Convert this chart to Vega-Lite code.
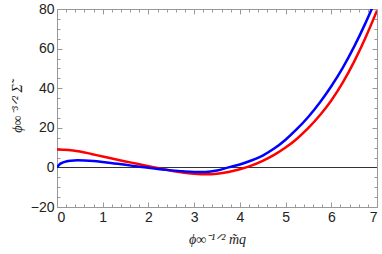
{
  "$schema": "https://vega.github.io/schema/vega-lite/v6.json",
  "width": 320,
  "height": 198,
  "autosize": {"type": "none"},
  "padding": {"left": 57, "top": 9, "right": 5, "bottom": 47},
  "background": "white",
  "config": {
    "view": {"stroke": "#999", "strokeWidth": 1},
    "axis": {
      "grid": false,
      "domain": false,
      "tickColor": "#999",
      "labelFont": "Liberation Sans",
      "labelFontSize": 14,
      "labelColor": "#222",
      "titleFont": "Liberation Serif",
      "titleFontStyle": "italic",
      "titleFontWeight": "normal",
      "titleFontSize": 14,
      "titleColor": "#222"
    }
  },
  "data": {
    "values": [
      {"x": 0, "y": 9.0, "s": "red"},
      {"x": 0.25, "y": 8.8, "s": "red"},
      {"x": 0.5, "y": 8.0, "s": "red"},
      {"x": 0.75, "y": 6.8, "s": "red"},
      {"x": 1.0, "y": 5.5, "s": "red"},
      {"x": 1.25, "y": 4.2, "s": "red"},
      {"x": 1.5, "y": 3.0, "s": "red"},
      {"x": 1.75, "y": 1.8, "s": "red"},
      {"x": 2.0, "y": 0.6, "s": "red"},
      {"x": 2.25, "y": -0.6, "s": "red"},
      {"x": 2.5, "y": -1.7, "s": "red"},
      {"x": 2.75, "y": -2.6, "s": "red"},
      {"x": 3.0, "y": -3.2, "s": "red"},
      {"x": 3.25, "y": -3.5, "s": "red"},
      {"x": 3.5, "y": -3.2, "s": "red"},
      {"x": 3.75, "y": -2.3, "s": "red"},
      {"x": 4.0, "y": -0.9, "s": "red"},
      {"x": 4.25, "y": 0.9, "s": "red"},
      {"x": 4.5, "y": 3.3, "s": "red"},
      {"x": 4.75, "y": 6.3, "s": "red"},
      {"x": 5.0, "y": 10.0, "s": "red"},
      {"x": 5.25, "y": 14.5, "s": "red"},
      {"x": 5.5, "y": 19.9, "s": "red"},
      {"x": 5.75, "y": 26.3, "s": "red"},
      {"x": 6.0, "y": 33.8, "s": "red"},
      {"x": 6.25, "y": 42.8, "s": "red"},
      {"x": 6.5, "y": 53.4, "s": "red"},
      {"x": 6.75, "y": 65.6, "s": "red"},
      {"x": 7.0, "y": 79.2, "s": "red"},
      {"x": 0, "y": 0, "s": "blue"},
      {"x": 0.05, "y": 1.4, "s": "blue"},
      {"x": 0.1, "y": 2.2, "s": "blue"},
      {"x": 0.2, "y": 3.0, "s": "blue"},
      {"x": 0.3, "y": 3.4, "s": "blue"},
      {"x": 0.45, "y": 3.6, "s": "blue"},
      {"x": 0.6, "y": 3.5, "s": "blue"},
      {"x": 0.8, "y": 3.2, "s": "blue"},
      {"x": 1.0, "y": 2.7, "s": "blue"},
      {"x": 1.25, "y": 2.0, "s": "blue"},
      {"x": 1.5, "y": 1.3, "s": "blue"},
      {"x": 1.75, "y": 0.5, "s": "blue"},
      {"x": 2.0, "y": -0.2, "s": "blue"},
      {"x": 2.25, "y": -0.9, "s": "blue"},
      {"x": 2.5, "y": -1.5, "s": "blue"},
      {"x": 2.75, "y": -2.0, "s": "blue"},
      {"x": 3.0, "y": -2.3, "s": "blue"},
      {"x": 3.25, "y": -2.3, "s": "blue"},
      {"x": 3.5, "y": -1.6, "s": "blue"},
      {"x": 3.75, "y": 0.0, "s": "blue"},
      {"x": 4.0, "y": 1.5, "s": "blue"},
      {"x": 4.25, "y": 3.5, "s": "blue"},
      {"x": 4.5, "y": 6.0, "s": "blue"},
      {"x": 4.75, "y": 9.5, "s": "blue"},
      {"x": 5.0, "y": 14.0, "s": "blue"},
      {"x": 5.25, "y": 19.4, "s": "blue"},
      {"x": 5.5, "y": 25.6, "s": "blue"},
      {"x": 5.75, "y": 32.8, "s": "blue"},
      {"x": 6.0, "y": 41.0, "s": "blue"},
      {"x": 6.25, "y": 50.3, "s": "blue"},
      {"x": 6.5, "y": 61.0, "s": "blue"},
      {"x": 6.75, "y": 73.0, "s": "blue"},
      {"x": 6.9, "y": 80.8, "s": "blue"}
    ]
  },
  "resolve": {"axis": {"x": "independent", "y": "independent"}},
  "layer": [
    {
      "mark": {"type": "rule", "color": "#333", "strokeWidth": 1, "yOffset": 0.1},
      "encoding": {
        "y": {
          "datum": 0, "type": "quantitative",
          "scale": {"domain": [-20, 80], "nice": false},
          "axis": {"values": [-15, -10, -5, 5, 10, 15, 25, 30, 35, 45, 50, 55, 65, 70, 75], "tickSize": -3, "labels": false, "title": null, "orient": "left"}
        },
        "x": {
          "datum": 0, "type": "quantitative",
          "scale": {"domain": [0, 7], "nice": false},
          "axis": {"values": [0.2, 0.4, 0.6, 0.8, 1.2, 1.4, 1.6, 1.8, 2.2, 2.4, 2.6, 2.8, 3.2, 3.4, 3.6, 3.8, 4.2, 4.4, 4.6, 4.8, 5.2, 5.4, 5.6, 5.8, 6.2, 6.4, 6.6, 6.8], "tickSize": -3, "labels": false, "title": null, "orient": "bottom"}
        },
        "x2": {"datum": 7}
      }
    },
    {
      "mark": {"type": "line", "strokeWidth": 2.5, "clip": true, "interpolate": "monotone"},
      "encoding": {
        "x": {
          "field": "x", "type": "quantitative",
          "axis": {"values": [0, 1, 2, 3, 4, 5, 6, 7], "tickSize": -5, "labelPadding": 8, "title": "ϕ∞⁻¹ᐟ² m̃q", "titlePadding": 8, "orient": "bottom"}
        },
        "y": {
          "field": "y", "type": "quantitative",
          "axis": {"values": [-20, 0, 20, 40, 60, 80], "tickSize": -5, "labelPadding": 8, "title": "ϕ∞⁻³ᐟ² Σ̃", "titlePadding": 6, "orient": "left"}
        },
        "color": {
          "field": "s", "type": "nominal",
          "scale": {"domain": ["red", "blue"], "range": ["#ff0000", "#0000ff"]},
          "legend": null
        }
      }
    },
    {
      "mark": {"type": "rule", "opacity": 0},
      "encoding": {
        "y": {
          "datum": 0, "type": "quantitative",
          "axis": {"values": [-20, 0, 20, 40, 60, 80], "tickSize": -5, "labels": false, "title": null, "orient": "right"}
        },
        "x": {
          "datum": 0, "type": "quantitative",
          "axis": {"values": [0, 1, 2, 3, 4, 5, 6, 7], "tickSize": -5, "labels": false, "title": null, "orient": "top"}
        },
        "x2": {"datum": 7}
      }
    },
    {
      "mark": {"type": "rule", "opacity": 0},
      "encoding": {
        "y": {
          "datum": 0, "type": "quantitative",
          "axis": {"values": [-15, -10, -5, 5, 10, 15, 25, 30, 35, 45, 50, 55, 65, 70, 75], "tickSize": -3, "labels": false, "title": null, "orient": "right"}
        },
        "x": {
          "datum": 0, "type": "quantitative",
          "axis": {"values": [0.2, 0.4, 0.6, 0.8, 1.2, 1.4, 1.6, 1.8, 2.2, 2.4, 2.6, 2.8, 3.2, 3.4, 3.6, 3.8, 4.2, 4.4, 4.6, 4.8, 5.2, 5.4, 5.6, 5.8, 6.2, 6.4, 6.6, 6.8], "tickSize": -3, "labels": false, "title": null, "orient": "top"}
        },
        "x2": {"datum": 7}
      }
    }
  ]
}
